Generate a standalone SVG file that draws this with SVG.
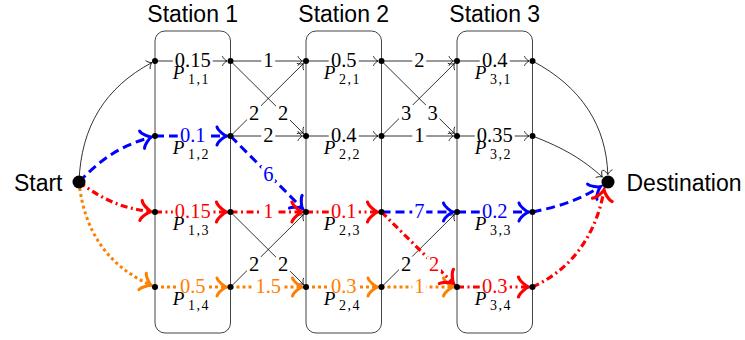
<svg xmlns="http://www.w3.org/2000/svg" width="745" height="340" viewBox="0 0 745 340">
<style>
.box{fill:none;stroke:#444;stroke-width:1}
.title{font-family:"Liberation Sans",Arial,sans-serif;font-size:23px;text-anchor:middle;fill:#000}
.side{font-family:"Liberation Sans",Arial,sans-serif;font-size:23px;fill:#000}
.P{font-family:"Liberation Serif","Times New Roman",serif;font-style:italic;font-size:19px;fill:#000}
.sub{font-style:normal;font-size:14px;letter-spacing:1.5px}
.lbl{font-family:"Liberation Serif","Times New Roman",serif;font-size:20.5px;text-anchor:middle}
.bg{fill:#fff}
.k{stroke:#000;stroke-width:0.8;fill:none;marker-end:url(#ak)}
.b{stroke:#00f;stroke-width:3;fill:none;stroke-dasharray:9 5;marker-end:url(#ab)}
.r{stroke:#f00;stroke-width:3.2;fill:none;stroke-dasharray:7 3.5 2 3.5;marker-end:url(#ar)}
.o{stroke:#ff8000;stroke-width:3;fill:none;stroke-dasharray:3 3;marker-end:url(#ao)}
.tk{fill:#000}.tb{fill:#00f}.tr{fill:#f00}.to{fill:#ff8000}
.dot{fill:#000}
</style>
<defs>
<marker id="ak" markerUnits="userSpaceOnUse" orient="auto" refX="0" refY="0" markerWidth="20" markerHeight="20" overflow="visible"><path d="M-4.5,-4.5 C-4.2,-2.8 -0.9,-0.3 0,0 C-0.9,0.3 -4.2,2.8 -4.5,4.5" fill="none" stroke="#000" stroke-width="0.8" stroke-linecap="round"/></marker>
<marker id="ab" markerUnits="userSpaceOnUse" orient="auto" refX="0" refY="0" markerWidth="30" markerHeight="30" overflow="visible"><path d="M-9.5,-9 C-8.8,-5.7 -1.9,-0.6 0,0 C-1.9,0.6 -8.8,5.7 -9.5,9" fill="none" stroke="#00f" stroke-width="3" stroke-linecap="round"/></marker>
<marker id="ar" markerUnits="userSpaceOnUse" orient="auto" refX="0" refY="0" markerWidth="30" markerHeight="30" overflow="visible"><path d="M-10,-10 C-9.3,-6.3 -2,-0.6 0,0 C-2,0.6 -9.3,6.3 -10,10" fill="none" stroke="#f00" stroke-width="3.2" stroke-linecap="round"/></marker>
<marker id="ao" markerUnits="userSpaceOnUse" orient="auto" refX="0" refY="0" markerWidth="30" markerHeight="30" overflow="visible"><path d="M-9.5,-9 C-8.8,-5.7 -1.9,-0.6 0,0 C-1.9,0.6 -8.8,5.7 -9.5,9" fill="none" stroke="#ff8000" stroke-width="3" stroke-linecap="round"/></marker>
</defs>
<rect width="745" height="340" fill="#fff"/>

<g id="station1"><rect class="box" x="155" y="31" width="75.5" height="302" rx="10"/><text class="title" x="192.75" y="22">Station 1</text></g>
<g id="station2"><rect class="box" x="306" y="31" width="75.5" height="302" rx="10"/><text class="title" x="343.75" y="22">Station 2</text></g>
<g id="station3"><rect class="box" x="457" y="31" width="75.5" height="302" rx="10"/><text class="title" x="494.75" y="22">Station 3</text></g>

<g id="connectors">
<path class="k" d="M79,182 C81,126 105.5,87.2 151.9,62.6"/>
<path class="k" d="M155,61 H227"/>
<path class="k" d="M230.5,61 H302.5"/>
<path class="k" d="M230.5,61 L303.5,133.5"/>
<path class="k" d="M230.5,136 L303.5,63.5"/>
<path class="k" d="M230.5,136 H302.5"/>
<path class="k" d="M306,61 H378"/>
<path class="k" d="M306,136 H378"/>
<path class="k" d="M381.5,61 H453.5"/>
<path class="k" d="M381.5,61 L454.5,133.5"/>
<path class="k" d="M381.5,136 L454.5,63.5"/>
<path class="k" d="M381.5,136 H453.5"/>
<path class="k" d="M457,61 H529"/>
<path class="k" d="M457,136 H529"/>
<path class="k" d="M230.5,212 L303.5,284.5"/>
<path class="k" d="M230.5,287 L303.5,214.5"/>
<path class="k" d="M381.5,287 L454.5,214.5"/>
<path class="k" d="M532.5,61 C582.1,87.3 606.3,126.3 607.8,174.5"/>
<path class="k" d="M532.5,136 C565,148.6 582.2,159.2 602.4,177"/>
<path class="o" d="M79,182 C84.2,232.4 108.7,266.3 151.3,285.4"/>
<path class="o" d="M155,287 H226.5"/>
<path class="o" d="M230.5,287 H302"/>
<path class="o" d="M306,287 H377.5"/>
<path class="o" d="M381.5,287 H453"/>
<path class="b" d="M79,182 C103.2,157 121.6,145.6 151.2,137.1"/>
<path class="b" d="M155,136 H226.5"/>
<path class="b" d="M230.5,136 L302.5,208.5"/>
<path class="b" d="M381.5,212 H453"/>
<path class="b" d="M457,212 H528.5"/>
<path class="b" d="M532.5,212 C563.9,205.5 581.1,198.6 600.3,186.7"/>
<path class="r" d="M79,182 C104.7,201 123.2,208.4 151,211.6"/>
<path class="r" d="M155,212 H226.5"/>
<path class="r" d="M230.5,212 H302"/>
<path class="r" d="M306,212 H377.5"/>
<path class="r" d="M381.5,212 L453.5,283.5"/>
<path class="r" d="M457,287 H528.5"/>
<path class="r" d="M532.5,287 C579,266.1 598,225 604,190"/>

<g id="labels">
<rect class="bg" x="172.75" y="53" width="40" height="15"/><text class="lbl tk" x="192.75" y="67">0.15</text>
<rect class="bg" x="261.25" y="53" width="14" height="15"/><text class="lbl tk" x="268.25" y="67">1</text>
<rect class="bg" x="276" y="105" width="14" height="16"/><text class="lbl tk" x="283" y="119.5">2</text>
<rect class="bg" x="247" y="105" width="14" height="16"/><text class="lbl tk" x="254" y="119.5">2</text>
<rect class="bg" x="261.25" y="128" width="14" height="15"/><text class="lbl tk" x="268.25" y="142">2</text>
<rect class="bg" x="328.75" y="53" width="30" height="15"/><text class="lbl tk" x="343.75" y="67">0.5</text>
<rect class="bg" x="328.75" y="128" width="30" height="15"/><text class="lbl tk" x="343.75" y="142">0.4</text>
<rect class="bg" x="412.25" y="53" width="14" height="15"/><text class="lbl tk" x="419.25" y="67">2</text>
<rect class="bg" x="425.5" y="105" width="14" height="16"/><text class="lbl tk" x="432.5" y="119.5">3</text>
<rect class="bg" x="399" y="105" width="14" height="16"/><text class="lbl tk" x="406" y="119.5">3</text>
<rect class="bg" x="412.25" y="128" width="14" height="15"/><text class="lbl tk" x="419.25" y="142">1</text>
<rect class="bg" x="479.75" y="53" width="30" height="15"/><text class="lbl tk" x="494.75" y="67">0.4</text>
<rect class="bg" x="474.75" y="128" width="40" height="15"/><text class="lbl tk" x="494.75" y="142">0.35</text>
<rect class="bg" x="276" y="256.5" width="14" height="16"/><text class="lbl tk" x="283" y="271">2</text>
<rect class="bg" x="247" y="256.5" width="14" height="16"/><text class="lbl tk" x="254" y="271">2</text>
<rect class="bg" x="399" y="256.5" width="14" height="16"/><text class="lbl tk" x="406" y="271">2</text>
<rect class="bg" x="177.75" y="128" width="30" height="15"/><text class="lbl tb" x="192.75" y="142">0.1</text>
<rect class="bg" x="261.25" y="166" width="14" height="16"/><text class="lbl tb" x="268.25" y="180.5">6</text>
<rect class="bg" x="412.25" y="204" width="14" height="15"/><text class="lbl tb" x="419.25" y="218">7</text>
<rect class="bg" x="479.75" y="204" width="30" height="15"/><text class="lbl tb" x="494.75" y="218">0.2</text>
<rect class="bg" x="172.75" y="204" width="40" height="15"/><text class="lbl tr" x="192.75" y="218">0.15</text>
<rect class="bg" x="261.25" y="204" width="14" height="15"/><text class="lbl tr" x="268.25" y="218">1</text>
<rect class="bg" x="328.75" y="204" width="30" height="15"/><text class="lbl tr" x="343.75" y="218">0.1</text>
<rect class="bg" x="427" y="256.5" width="14" height="16"/><text class="lbl tr" x="434" y="271">2</text>
<rect class="bg" x="479.75" y="279" width="30" height="15"/><text class="lbl tr" x="494.75" y="293">0.3</text>
<rect class="bg" x="177.75" y="279" width="30" height="15"/><text class="lbl to" x="192.75" y="293">0.5</text>
<rect class="bg" x="253.25" y="279" width="30" height="15"/><text class="lbl to" x="268.25" y="293">1.5</text>
<rect class="bg" x="328.75" y="279" width="30" height="15"/><text class="lbl to" x="343.75" y="293">0.3</text>
<rect class="bg" x="412.25" y="279" width="14" height="15"/><text class="lbl to" x="419.25" y="293">1</text>
</g>
</g>

<g id="start"><circle class="dot" cx="79" cy="182" r="6.5"/><text class="side" x="62.5" y="190.5" text-anchor="end">Start</text></g>
<g id="destination"><circle class="dot" cx="608" cy="182" r="6.5"/><text class="side" x="626.5" y="190.5">Destination</text></g>

<g id="P11"><circle class="dot" cx="155" cy="61" r="3"/><circle class="dot" cx="230.5" cy="61" r="3"/><text class="P" x="172.7" y="79">P<tspan class="sub" x="188" y="84">1,1</tspan></text></g>
<g id="P12"><circle class="dot" cx="155" cy="136" r="3"/><circle class="dot" cx="230.5" cy="136" r="3"/><text class="P" x="172.7" y="154">P<tspan class="sub" x="188" y="159">1,2</tspan></text></g>
<g id="P13"><circle class="dot" cx="155" cy="212" r="3"/><circle class="dot" cx="230.5" cy="212" r="3"/><text class="P" x="172.7" y="230">P<tspan class="sub" x="188" y="235">1,3</tspan></text></g>
<g id="P14"><circle class="dot" cx="155" cy="287" r="3"/><circle class="dot" cx="230.5" cy="287" r="3"/><text class="P" x="172.7" y="305">P<tspan class="sub" x="188" y="310">1,4</tspan></text></g>
<g id="P21"><circle class="dot" cx="306" cy="61" r="3"/><circle class="dot" cx="381.5" cy="61" r="3"/><text class="P" x="323.7" y="79">P<tspan class="sub" x="339" y="84">2,1</tspan></text></g>
<g id="P22"><circle class="dot" cx="306" cy="136" r="3"/><circle class="dot" cx="381.5" cy="136" r="3"/><text class="P" x="323.7" y="154">P<tspan class="sub" x="339" y="159">2,2</tspan></text></g>
<g id="P23"><circle class="dot" cx="306" cy="212" r="3"/><circle class="dot" cx="381.5" cy="212" r="3"/><text class="P" x="323.7" y="230">P<tspan class="sub" x="339" y="235">2,3</tspan></text></g>
<g id="P24"><circle class="dot" cx="306" cy="287" r="3"/><circle class="dot" cx="381.5" cy="287" r="3"/><text class="P" x="323.7" y="305">P<tspan class="sub" x="339" y="310">2,4</tspan></text></g>
<g id="P31"><circle class="dot" cx="457" cy="61" r="3"/><circle class="dot" cx="532.5" cy="61" r="3"/><text class="P" x="474.7" y="79">P<tspan class="sub" x="490" y="84">3,1</tspan></text></g>
<g id="P32"><circle class="dot" cx="457" cy="136" r="3"/><circle class="dot" cx="532.5" cy="136" r="3"/><text class="P" x="474.7" y="154">P<tspan class="sub" x="490" y="159">3,2</tspan></text></g>
<g id="P33"><circle class="dot" cx="457" cy="212" r="3"/><circle class="dot" cx="532.5" cy="212" r="3"/><text class="P" x="474.7" y="230">P<tspan class="sub" x="490" y="235">3,3</tspan></text></g>
<g id="P34"><circle class="dot" cx="457" cy="287" r="3"/><circle class="dot" cx="532.5" cy="287" r="3"/><text class="P" x="474.7" y="305">P<tspan class="sub" x="490" y="310">3,4</tspan></text></g>
</svg>
